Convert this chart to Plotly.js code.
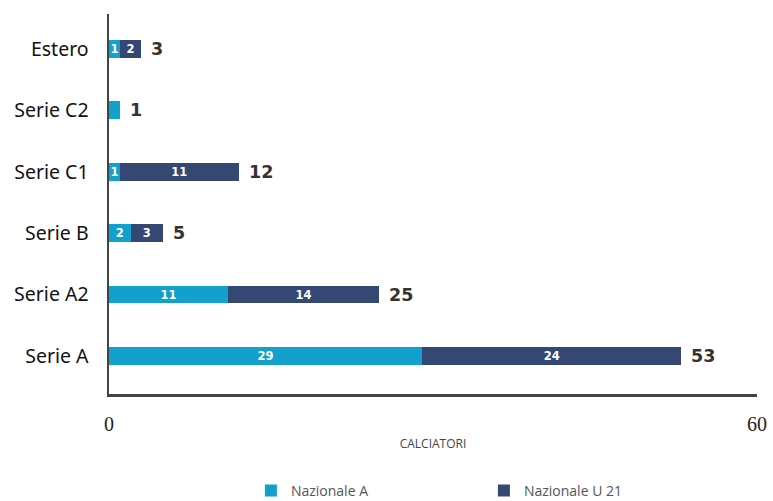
<!DOCTYPE html>
<html><head><meta charset="utf-8">
<script src="https://cdn.plot.ly/plotly-3.0.1.min.js"></script>
<style>html,body{margin:0;padding:0;background:#fff}#chart{width:773px;height:501px}</style>
</head><body><div id="chart"></div>
<script>
const categories = ['Serie A', 'Serie A2', 'Serie B', 'Serie C1', 'Serie C2', 'Estero'];
const nazionaleA = [29, 11, 2, 1, 1, 1];
const nazionaleU21 = [24, 14, 3, 11, 0, 2];
const labelsA = ['29', '11', '2', '1', '', '1'];
const labelsU21 = ['24', '14', '3', '11', '', '2'];
const totals = nazionaleA.map((v, i) => v + nazionaleU21[i]);
const xTicks = [0, 60];
const xTickText = ['0', '60'];

const barFont = {family: 'DejaVu Sans', size: 11.5, color: '#ffffff', weight: 'bold'};

const traces = [
  {type: 'bar', orientation: 'h', name: 'Nazionale A', y: categories, x: nazionaleA,
   marker: {color: '#12a1cd'}, text: labelsA, textposition: 'inside', insidetextanchor: 'middle',
   textangle: 0, textfont: barFont, width: 0.29, hoverinfo: 'skip'},
  {type: 'bar', orientation: 'h', name: 'Nazionale U 21', y: categories, x: nazionaleU21,
   marker: {color: '#344873'}, text: labelsU21, textposition: 'inside', insidetextanchor: 'middle',
   textangle: 0, textfont: barFont, width: 0.29, hoverinfo: 'skip'}
];

const annotations = categories.map((c, i) => ({
  x: totals[i], y: c, xref: 'x', yref: 'y', text: String(totals[i]), showarrow: false,
  xanchor: 'left', xshift: 8, font: {family: 'DejaVu Sans', size: 17.5, color: '#333333', weight: 'bold'}
}));

const layout = {
  width: 773, height: 501,
  margin: {l: 109, r: 16, t: 14, b: 107, autoexpand: false},
  barmode: 'stack',
  paper_bgcolor: '#ffffff', plot_bgcolor: '#ffffff',
  uniformtext: {mode: 'show', minsize: 11},
  xaxis: {range: [0, 60], tickvals: xTicks, ticktext: xTickText, showgrid: false, zeroline: false,
          showline: true, linecolor: '#444444', linewidth: 2.5,
          ticks: 'outside', ticklen: 10, tickcolor: 'rgba(0,0,0,0)',
          tickfont: {family: 'Liberation Serif', size: 20, color: '#222222'},
          title: {text: 'CALCIATORI', font: {family: 'Open Sans', size: 12, color: '#444444'}, standoff: 6}},
  yaxis: {range: [-0.62, 5.57], showgrid: false, zeroline: false,
          showline: true, linecolor: '#444444', linewidth: 2.5,
          ticks: 'outside', ticklen: 14, tickcolor: 'rgba(0,0,0,0)',
          tickfont: {family: 'Noto Sans', size: 19.5, color: '#111111', weight: 400}},
  showlegend: true,
  legend: {orientation: 'h', x: 0.219, xref: 'paper', y: -0.255, yref: 'paper', yanchor: 'middle',
           xanchor: 'left', entrywidth: 188, traceorder: 'normal',
           font: {family: 'Open Sans', size: 14, color: '#555555'}},
  annotations: annotations
};

Plotly.newPlot('chart', traces, layout, {displayModeBar: false, staticPlot: true});
</script></body></html>
